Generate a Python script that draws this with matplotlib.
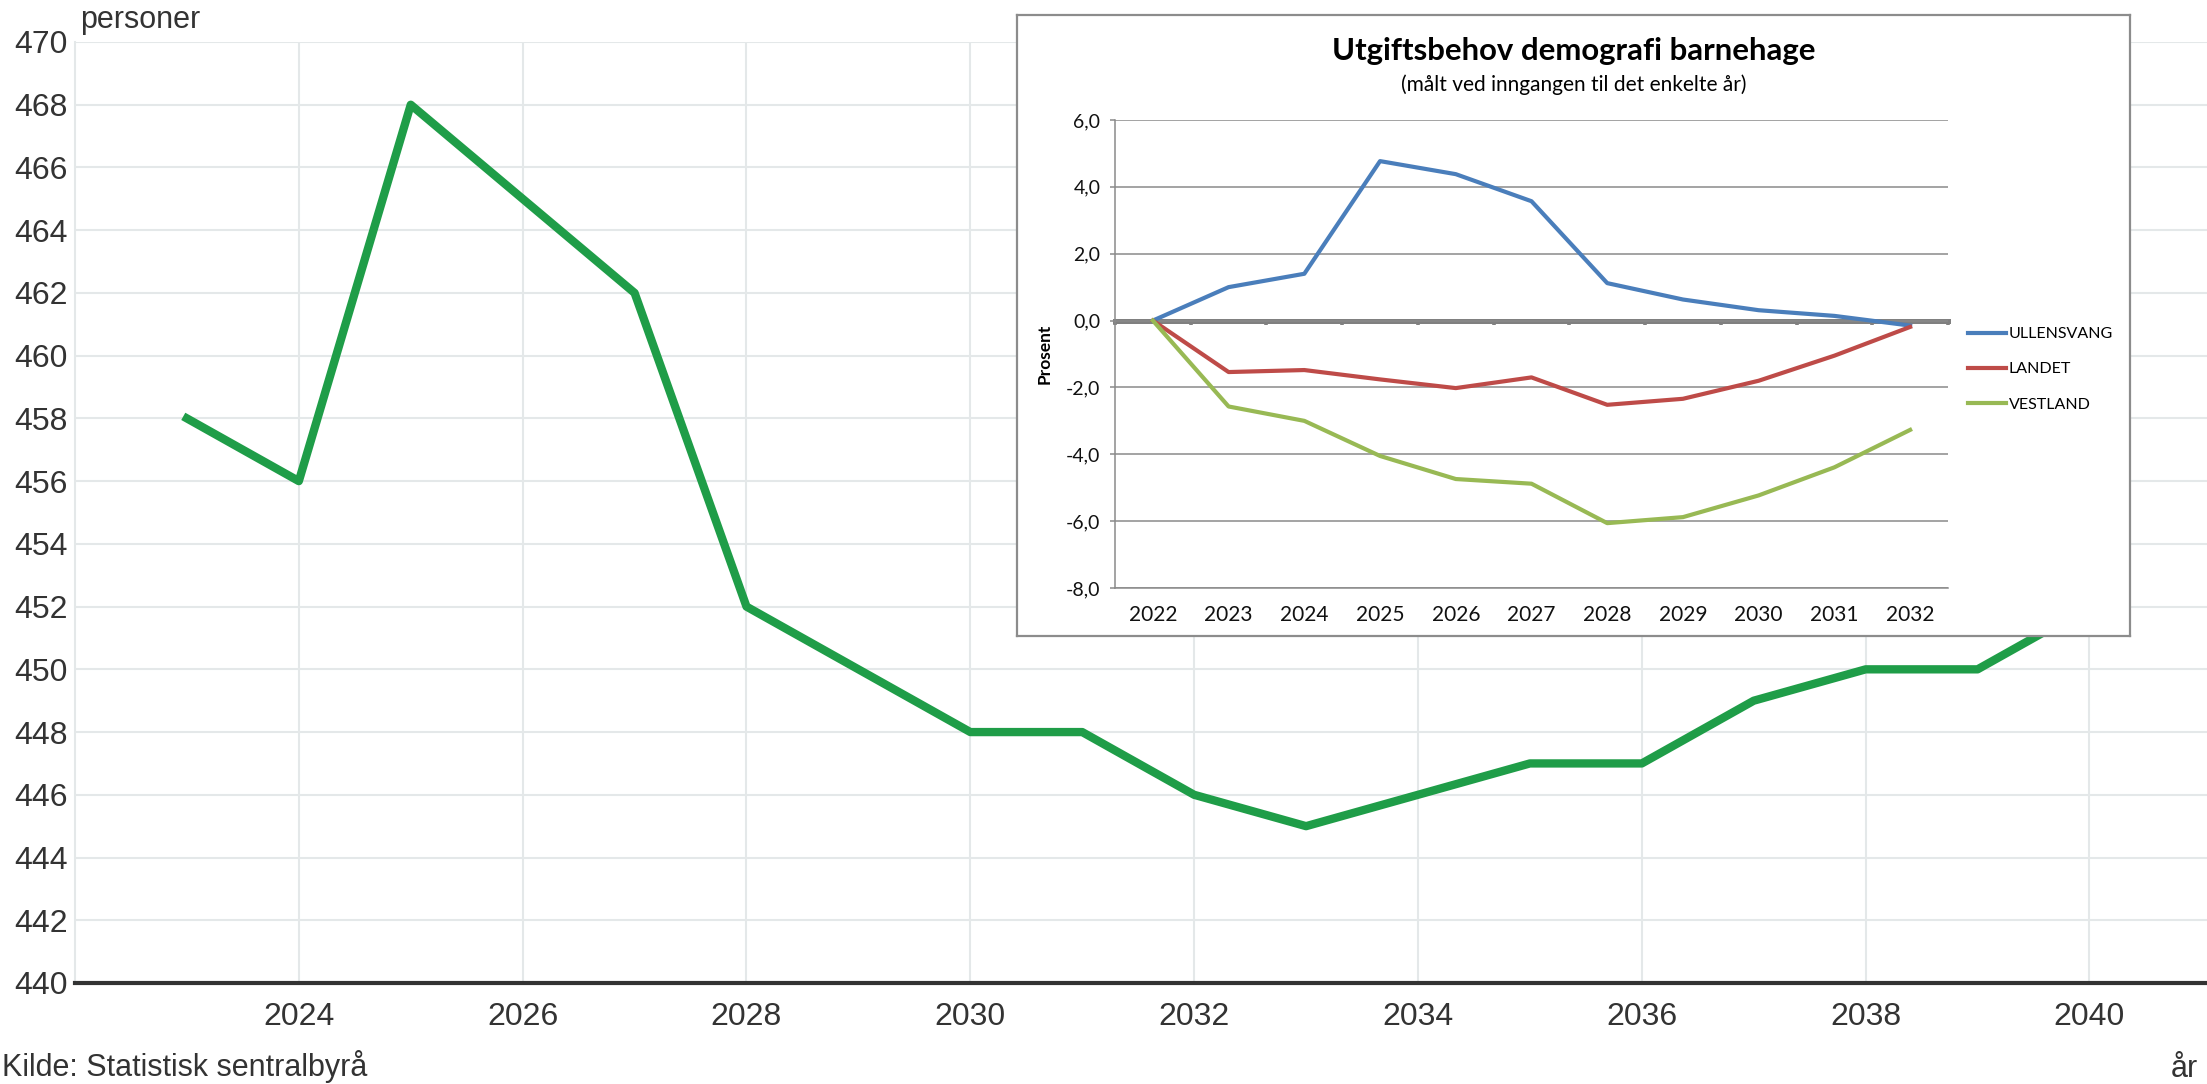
import matplotlib
matplotlib.use("Agg")
import matplotlib.pyplot as plt
import numpy as np

# ---------------- main chart data ----------------
years = [2023, 2024, 2025, 2026, 2027, 2028, 2029, 2030, 2031, 2032,
         2033, 2034, 2035, 2036, 2037, 2038, 2039, 2040]
persons = [458, 456, 468, 465, 462, 452, 450, 448, 448, 446,
           445, 446, 447, 447, 449, 450, 450, 452]
main_xticks = [2024, 2026, 2028, 2030, 2032, 2034, 2036, 2038, 2040]
main_yticks = [440, 442, 444, 446, 448, 450, 452, 454, 456, 458, 460,
               462, 464, 466, 468, 470]

# ---------------- inset chart data ----------------
inset_years = ["2022", "2023", "2024", "2025", "2026", "2027",
               "2028", "2029", "2030", "2031", "2032"]
ullensvang = [0.0, 1.0, 1.4, 4.77, 4.38, 3.57, 1.12, 0.63, 0.31, 0.14, -0.15]
landet = [0.0, -1.54, -1.48, -1.76, -2.02, -1.70, -2.52, -2.34, -1.80, -1.05, -0.19]
vestland = [0.0, -2.57, -3.0, -4.05, -4.74, -4.88, -6.06, -5.88, -5.23, -4.39, -3.27]
series_names = ["ULLENSVANG", "LANDET", "VESTLAND"]
inset_yticks = [-8, -6, -4, -2, 0, 2, 4, 6]

W, H = 2207, 1084
fig = plt.figure(figsize=(W / 100, H / 100), dpi=100)

MAIN_FONT = "Liberation Sans"
TXT = "#333333"
GRID = "#e4e8e9"
GREEN = "#1f9d48"

# ---------------- main axes ----------------
ax = fig.add_axes([75 / W, 1 - 983 / H, 1 - 75 / W, (983 - 42) / H])
ax.plot(years, persons, color=GREEN, lw=6.0, solid_joinstyle="round", zorder=3)
ax.set_xlim(2022.0, 2041.05)
ax.set_ylim(440, 470)
ax.set_xticks(main_xticks)
ax.set_yticks(main_yticks)
ax.grid(True, color=GRID, lw=1.5)
ax.set_axisbelow(True)
for s in ["top", "right"]:
    ax.spines[s].set_visible(False)
ax.spines["left"].set_color(GRID)
ax.spines["left"].set_linewidth(1.5)
ax.spines["bottom"].set_color("#333333")
ax.spines["bottom"].set_linewidth(3)
ax.tick_params(axis="both", length=0, labelsize=23, colors=TXT)
ax.tick_params(axis="x", pad=14)
ax.tick_params(axis="y", pad=5)
for lab in ax.get_xticklabels() + ax.get_yticklabels():
    lab.set_fontfamily(MAIN_FONT)

fig.text(80 / W, 1 - 28 / H, "personer", ha="left", va="baseline",
         fontsize=22, color=TXT, family=MAIN_FONT)
fig.text(2198 / W, 1 - 1077 / H, "år", ha="right", va="baseline",
         fontsize=22, color=TXT, family=MAIN_FONT)
fig.text(2 / W, 1 - 1076 / H, "Kilde: Statistisk sentralbyrå", ha="left", va="baseline",
         fontsize=22, color=TXT, family=MAIN_FONT)

# ---------------- inset box ----------------
INSET_FONT = "Lato"
bx = fig.add_axes([1017 / W, 1 - 636 / H, (2130 - 1017) / W, (636 - 15) / H], zorder=5)
bx.set_facecolor("white")
bx.set_xticks([])
bx.set_yticks([])
for s in bx.spines.values():
    s.set_color("#8c8c8c")
    s.set_linewidth(1.6)
bx.text(0.5, 0.9425, "Utgiftsbehov demografi barnehage", ha="center", va="center",
        fontsize=22.4, fontweight="bold", family=INSET_FONT, color="black",
        transform=bx.transAxes)
bx.text(0.5, 0.888, "(målt ved inngangen til det enkelte år)", ha="center", va="center",
        fontsize=15, family=INSET_FONT, color="black", transform=bx.transAxes)

# ---------------- inset plot ----------------
ax2 = fig.add_axes([1115 / W, 1 - 588 / H, (1948 - 1115) / W, (588 - 120) / H], zorder=6)
ax2.set_facecolor("none")
x = np.arange(len(inset_years))
colors = ["#4a7ebb", "#be4b48", "#98b954"]
handles = []
for vals, c, name in zip([ullensvang, landet, vestland], colors, series_names):
    h, = ax2.plot(x, vals, color=c, lw=3.0, solid_joinstyle="round", label=name, zorder=4)
    handles.append(h)
ax2.set_xlim(-0.5, len(inset_years) - 0.5)
ax2.set_ylim(-8, 6)
ax2.set_xticks(x)
ax2.set_xticklabels(inset_years)
ax2.set_yticks(inset_yticks)
ax2.set_yticklabels([f"{v:.1f}".replace(".", ",") for v in inset_yticks])
ax2.yaxis.grid(True, color="#8a8a8a", lw=1.1)
ax2.set_axisbelow(True)
for s in ["top", "right"]:
    ax2.spines[s].set_visible(False)
ax2.spines["bottom"].set_color("#8a8a8a")
ax2.spines["bottom"].set_linewidth(1.1)
ax2.spines["left"].set_color("#8a8a8a")
ax2.spines["left"].set_linewidth(1.1)
ax2.tick_params(axis="x", length=0, pad=12, labelsize=15, labelcolor="#111111")
ax2.tick_params(axis="y", direction="out", length=3.5, width=1.1, color="#8a8a8a",
                pad=7, labelsize=14, labelcolor="#111111")
for lab in ax2.get_xticklabels() + ax2.get_yticklabels():
    lab.set_fontfamily(INSET_FONT)
ax2.set_ylabel("Prosent", fontsize=12.5, fontweight="bold", family=INSET_FONT)
ax2.yaxis.set_label_coords(-0.0744, 0.5)

# zero (category) axis with boundary tick marks
sec = ax2.secondary_xaxis(0, transform=ax2.transData)
sec.set_xticks(np.arange(len(inset_years) + 1) - 0.5)
sec.set_xticklabels([])
sec.tick_params(direction="out", length=3.2, width=2.6, color="#808080")
sec.spines["bottom"].set_color("#808080")
sec.spines["bottom"].set_linewidth(3.6)

leg = ax2.legend(handles=handles, bbox_to_anchor=(1968 / W, 1 - 327 / H),
                 bbox_transform=fig.transFigure, loc="upper left", frameon=False,
                 prop={"family": INSET_FONT, "size": 11.5}, handlelength=2.4,
                 handletextpad=0.15, labelspacing=1.32, borderaxespad=0, borderpad=0)

fig.savefig("out.png", dpi=100)
